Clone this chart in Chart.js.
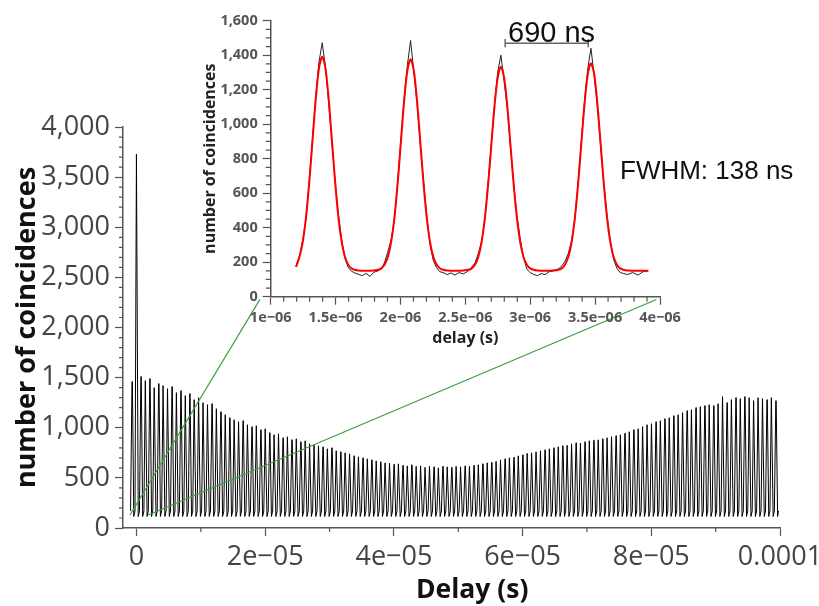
<!DOCTYPE html>
<html>
<head>
<meta charset="utf-8">
<script src="https://cdn.jsdelivr.net/npm/chart.js@4.4.1/dist/chart.umd.min.js"></script>
<style>
  body { margin: 0; background: #fff; }
  #wrap { position: relative; width: 819px; height: 606px; }
  #inset { position: absolute; left: 190px; top: 0; }
  .note { position: absolute; font-family: "Liberation Sans", Arial, sans-serif; color: #111; line-height: 1; white-space: nowrap; }
</style>
</head>
<body>
<div id="wrap">
  <canvas id="main" width="819" height="606"></canvas>
  <canvas id="inset" width="500" height="360"></canvas>
  <div class="note" style="left:508px; top:18px; font-size:29px;">690 ns</div>
  <div class="note" style="left:620px; top:157px; font-size:26px;">FWHM: 138 ns</div>
</div>
<script>
// ---- main histogram: one peak every 690 ns, height of each peak
const peakPeriod = 0.69e-6;
const firstPeak = -0.673e-6;
const baseBefore = 170;   // counts just before a peak
const baseAfter = 115;    // counts just after a peak
const peakCounts = [
  1460, 3730,
  1510, 1470, 1490, 1400, 1440, 1420, 1390, 1410, 1350, 1370,
  1320, 1340, 1280, 1300, 1250, 1230, 1240, 1190, 1160, 1130,
  1100, 1080, 1060, 1070, 1030, 1010, 1020, 980, 990, 950,
  930, 940, 900, 910, 880, 890, 860, 870, 840, 830,
  820, 810, 790, 800, 770, 760, 750, 740, 720, 710,
  700, 690, 680, 670, 660, 650, 645, 635, 640, 625,
  620, 630, 615, 620, 605, 615, 610, 600, 615, 610,
  605, 615, 610, 620, 615, 625, 630, 640, 650, 655,
  665, 680, 690, 700, 705, 720, 730, 745, 750, 760,
  770, 780, 790, 800, 810, 820, 825, 840, 850, 845,
  860, 870, 875, 880, 890, 900, 910, 920, 930, 945,
  960, 980, 990, 1010, 1030, 1040, 1060, 1070, 1090, 1100,
  1120, 1130, 1150, 1170, 1180, 1200, 1210, 1220, 1230, 1220,
  1240, 1310, 1250, 1280, 1300, 1290, 1310, 1300, 1270, 1300,
  1290, 1280, 1300, 1270
];

// zoom guide lines (delay s, counts)
const guideA = [[-1.01e-6, 130], [1.918e-5, 2280]];
const guideB = [[1.83e-6, 130], [8.08e-5, 2280]];

const mainXTickValues = [0, 2e-5, 4e-5, 6e-5, 8e-5, 1e-4];
const mainXTickLabels = ['0', '2e\u221205', '4e\u221205', '6e\u221205', '8e\u221205', '0.0001'];
const mainYTickValues = [0, 500, 1000, 1500, 2000, 2500, 3000, 3500, 4000];
const mainYTickLabels = ['0', '500', '1,000', '1,500', '2,000', '2,500', '3,000', '3,500', '4,000'];

// ---- inset: delay in ns, measured counts and gaussian fit
const insetDelayNs = [
  1195, 1222, 1247, 1272, 1297, 1322, 1347, 1372, 1397, 1422, 1447, 1472, 1497, 1522, 1547, 1572, 1597, 1622, 1647,
  1675, 1705, 1735, 1765, 1795,
  1828, 1853, 1878, 1903, 1928, 1953, 1978, 2003, 2028, 2053, 2078, 2103, 2128, 2153, 2178, 2203, 2228, 2253, 2278, 2303, 2328,
  2360, 2390, 2420, 2450, 2485,
  2524, 2549, 2574, 2599, 2624, 2649, 2674, 2699, 2724, 2749, 2774, 2799, 2824, 2849, 2874, 2899, 2924, 2949, 2974, 2999, 3024,
  3055, 3085, 3115, 3145, 3180,
  3218, 3243, 3268, 3293, 3318, 3343, 3368, 3393, 3418, 3443, 3468, 3493, 3518, 3543, 3568, 3593, 3618, 3643, 3668, 3693, 3718,
  3750, 3790, 3830, 3870, 3910
];
const insetCounts = [
  178, 236, 330, 450, 672, 915, 1160, 1360, 1472, 1330, 1125, 890, 665, 472, 330, 222, 170, 148, 138,
  130, 122, 135, 118, 142,
  150, 160, 200, 262, 330, 445, 660, 905, 1150, 1340, 1485, 1300, 1120, 880, 670, 465, 300, 210, 168, 145, 140,
  128, 138, 125, 140, 132,
  150, 172, 195, 248, 318, 440, 650, 880, 1110, 1300, 1400, 1250, 1085, 855, 645, 460, 330, 225, 160, 140, 130,
  122, 134, 128, 145, 150,
  162, 178, 205, 250, 322, 445, 655, 895, 1130, 1320, 1440, 1280, 1100, 870, 650, 465, 320, 215, 165, 140, 135,
  128, 140, 125, 145, 150
];
const insetFit = [
  172, 232, 318, 460, 661, 904, 1144, 1324, 1391, 1324, 1144, 904, 661, 460, 318, 232, 186, 165, 156,
  152, 151, 151, 151, 152,
  156, 165, 186, 231, 316, 456, 654, 895, 1132, 1310, 1376, 1310, 1132, 895, 654, 456, 316, 231, 186, 165, 156,
  152, 151, 151, 151, 152,
  156, 164, 185, 229, 311, 445, 637, 868, 1098, 1269, 1333, 1269, 1098, 868, 637, 445, 311, 229, 185, 164, 156,
  152, 151, 151, 151, 152,
  156, 164, 185, 230, 313, 450, 645, 881, 1114, 1288, 1353, 1288, 1114, 881, 645, 450, 313, 230, 185, 164, 156,
  152, 151, 151, 151, 151
];
// "690 ns" bracket (s, counts)
const bracket = [[2.807e-6, 1494], [2.807e-6, 1446], [2.807e-6, 1469], [3.447e-6, 1469], [3.447e-6, 1494], [3.447e-6, 1446]];

const insetXTickValues = [1e-6, 1.5e-6, 2e-6, 2.5e-6, 3e-6, 3.5e-6, 4e-6];
const insetXTickLabels = ['1e\u221206', '1.5e\u221206', '2e\u221206', '2.5e\u221206', '3e\u221206', '3.5e\u221206', '4e\u221206'];
const insetYTickValues = [0, 200, 400, 600, 800, 1000, 1200, 1400, 1600];
const insetYTickLabels = ['0', '200', '400', '600', '800', '1,000', '1,200', '1,400', '1,600'];

const axisColor = '#555';

// short unlabeled ticks between the labelled ones
const minorTicks = {
  id: 'minorTicks',
  afterDraw(chart, args, opts) {
    const ctx = chart.ctx;
    const xs = chart.scales.x, ys = chart.scales.y;
    ctx.save();
    ctx.strokeStyle = axisColor;
    ctx.lineWidth = 1.2;
    ctx.beginPath();
    opts.x.forEach(v => {
      const px = xs.getPixelForValue(v);
      ctx.moveTo(px, xs.top);
      ctx.lineTo(px, xs.top + opts.length);
    });
    opts.y.forEach(v => {
      const py = ys.getPixelForValue(v);
      ctx.moveTo(ys.right, py);
      ctx.lineTo(ys.right - opts.length, py);
    });
    ctx.stroke();
    ctx.restore();
  }
};

function steps(from, to, step, skipEvery) {
  const out = [];
  for (let i = 0; from + i * step <= to + step * 1e-6; i++) {
    if (i % skipEvery !== 0) out.push(from + i * step);
  }
  return out;
}

function toXY(pairs) {
  return pairs.map(p => ({ x: p[0], y: p[1] }));
}

const mainPoints = [];
peakCounts.forEach((c, i) => {
  const t = firstPeak + i * peakPeriod;
  mainPoints.push({ x: t - 0.25e-6, y: baseBefore });
  mainPoints.push({ x: t - 0.03e-6, y: c });
  mainPoints.push({ x: t + 0.03e-6, y: c });
  mainPoints.push({ x: t + 0.25e-6, y: baseAfter });
});
mainPoints.push({ x: 99.75e-6, y: baseBefore });

new Chart(document.getElementById('main'), {
  type: 'line',
  data: {
    datasets: [
      { data: toXY(guideA), borderColor: '#3c9f3c', borderWidth: 1.2, pointRadius: 0, order: 0 },
      { data: toXY(guideB), borderColor: '#3c9f3c', borderWidth: 1.2, pointRadius: 0, order: 0 },
      { data: mainPoints, borderColor: '#000', borderWidth: 1, pointRadius: 0, tension: 0, order: 1 }
    ]
  },
  options: {
    responsive: false,
    animation: false,
    events: [],
    parsing: false,
    layout: { padding: { top: 127, right: 39, bottom: 0, left: 0 } },
    plugins: {
      legend: { display: false },
      tooltip: { enabled: false },
      minorTicks: { x: steps(0, 1e-4, 1e-5, 2), y: steps(0, 4000, 100, 5), length: 4 }
    },
    scales: {
      x: {
        type: 'linear',
        min: -2.1e-6,
        max: 1e-4,
        afterFit: s => { s.height = 78; s.paddingRight = 0; s.paddingLeft = 0; },
        afterBuildTicks: s => { s.ticks = mainXTickValues.map(v => ({ value: v })); },
        ticks: {
          autoSkip: false, maxRotation: 0, padding: 5, color: '#444',
          font: { family: 'Open Sans', size: 27 },
          callback: (v, i) => mainXTickLabels[i]
        },
        grid: { drawOnChartArea: false, tickLength: 8, tickColor: axisColor, tickWidth: 1.2 },
        border: { color: axisColor, width: 1.5 },
        title: {
          display: true, text: '      Delay (s)', color: '#111',
          font: { family: 'Open Sans', size: 26.5, weight: 'bold' },
          padding: { top: 0, bottom: 0 }
        }
      },
      y: {
        type: 'linear',
        min: 0,
        max: 4000,
        afterFit: s => { s.width = 123; },
        afterBuildTicks: s => { s.ticks = mainYTickValues.map(v => ({ value: v })); },
        ticks: {
          autoSkip: false, padding: 5, color: '#444',
          font: { family: 'Open Sans', size: 27 },
          callback: (v, i) => mainYTickLabels[i]
        },
        grid: { drawOnChartArea: false, tickLength: 8, tickColor: axisColor, tickWidth: 1.2 },
        border: { color: axisColor, width: 1.5 },
        title: {
          display: true, text: 'number of coincidences', color: '#111',
          font: { family: 'Open Sans', size: 27, weight: 'bold' },
          padding: { top: 11, bottom: 0 }
        }
      }
    }
  },
  plugins: [minorTicks]
});

new Chart(document.getElementById('inset'), {
  type: 'line',
  data: {
    datasets: [
      { data: toXY(bracket), borderColor: '#666', borderWidth: 1.5, pointRadius: 0, order: 0 },
      { data: insetDelayNs.map((d, i) => ({ x: d * 1e-9, y: insetFit[i] })), borderColor: '#ff0000', borderWidth: 2, pointRadius: 0, tension: 0.3, order: 1 },
      { data: insetDelayNs.map((d, i) => ({ x: d * 1e-9, y: insetCounts[i] })), borderColor: '#222', borderWidth: 1, pointRadius: 0, order: 2 }
    ]
  },
  options: {
    responsive: false,
    animation: false,
    events: [],
    parsing: false,
    layout: { padding: { top: 20.7, right: 30, bottom: 0, left: 0 } },
    plugins: {
      legend: { display: false },
      tooltip: { enabled: false },
      minorTicks: { x: steps(1e-6, 4e-6, 1e-7, 5), y: steps(0, 1600, 50, 4), length: 5 }
    },
    scales: {
      x: {
        type: 'linear',
        min: 1e-6,
        max: 4e-6,
        afterFit: s => { s.height = 63.3; s.paddingRight = 0; s.paddingLeft = 0; },
        afterBuildTicks: s => { s.ticks = insetXTickValues.map(v => ({ value: v })); },
        ticks: {
          autoSkip: false, maxRotation: 0, padding: 4, color: '#555',
          font: { family: 'Open Sans', size: 14.5, weight: 'bold' },
          callback: (v, i) => insetXTickLabels[i]
        },
        grid: { drawOnChartArea: false, tickLength: 8, tickColor: axisColor, tickWidth: 1.2 },
        border: { color: axisColor, width: 1.5 },
        title: {
          display: true, text: 'delay (s)', color: '#222',
          font: { family: 'Open Sans', size: 16, weight: 'bold' },
          padding: { top: 0, bottom: 11.5 }
        }
      },
      y: {
        type: 'linear',
        min: 0,
        max: 1600,
        afterFit: s => { s.width = 80.7; },
        afterBuildTicks: s => { s.ticks = insetYTickValues.map(v => ({ value: v })); },
        ticks: {
          autoSkip: false, padding: 5, color: '#555',
          font: { family: 'Open Sans', size: 14.5, weight: 'bold' },
          callback: (v, i) => insetYTickLabels[i]
        },
        grid: { drawOnChartArea: false, tickLength: 8, tickColor: axisColor, tickWidth: 1.2 },
        border: { color: axisColor, width: 1.5 },
        title: {
          display: true, text: 'number of coincidences', color: '#222',
          font: { family: 'Open Sans', size: 16, weight: 'bold' },
          padding: { top: 10.5, bottom: 0 }
        }
      }
    }
  },
  plugins: [minorTicks]
});
</script>
</body>
</html>
